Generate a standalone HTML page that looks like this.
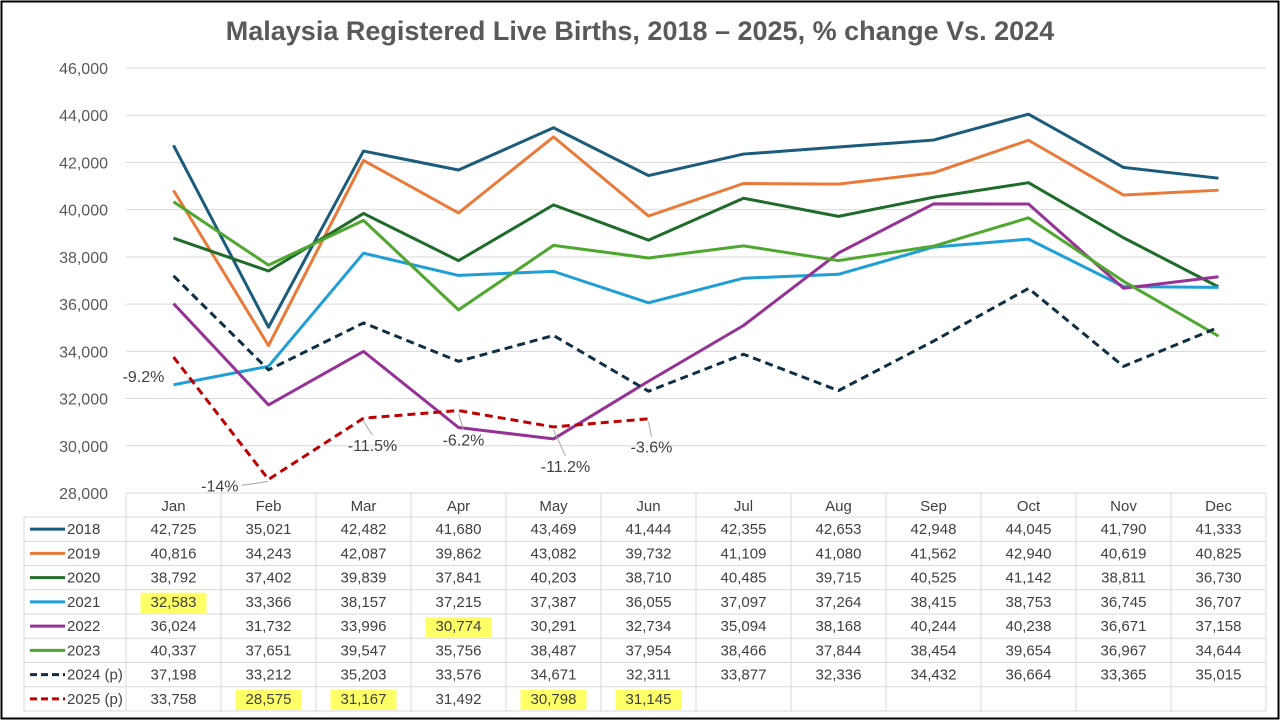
<!DOCTYPE html>
<html><head><meta charset="utf-8"><style>
body{margin:0;background:#fff;}
svg{display:block;font-family:"Liberation Sans",sans-serif;}
</style></head><body>
<svg id="chart" width="1280" height="720">
<rect x="1.5" y="1.5" width="1277" height="717" fill="#fff" stroke="#000" stroke-width="2"/>
<text x="640" y="40" text-anchor="middle" font-size="27" font-weight="bold" fill="#595959">Malaysia Registered Live Births, 2018 – 2025, % change Vs. 2024</text>
<g id="grid"></g><g id="table"></g><g id="lines"></g><g id="annos"></g>
</svg>
<script>
const months=["Jan","Feb","Mar","Apr","May","Jun","Jul","Aug","Sep","Oct","Nov","Dec"];
const yTicks=[28000,30000,32000,34000,36000,38000,40000,42000,44000,46000];
const seriesNames=["2018","2019","2020","2021","2022","2023","2024 (p)","2025 (p)"];
const s2018=[42725,35021,42482,41680,43469,41444,42355,42653,42948,44045,41790,41333];
const s2019=[40816,34243,42087,39862,43082,39732,41109,41080,41562,42940,40619,40825];
const s2020=[38792,37402,39839,37841,40203,38710,40485,39715,40525,41142,38811,36730];
const s2021=[32583,33366,38157,37215,37387,36055,37097,37264,38415,38753,36745,36707];
const s2022=[36024,31732,33996,30774,30291,32734,35094,38168,40244,40238,36671,37158];
const s2023=[40337,37651,39547,35756,38487,37954,38466,37844,38454,39654,36967,34644];
const s2024=[37198,33212,35203,33576,34671,32311,33877,32336,34432,36664,33365,35015];
const s2025=[33758,28575,31167,31492,30798,31145];
const pctLabels=["-9.2%","-14%","-11.5%","-6.2%","-11.2%","-3.6%"];
const highlights=[[3,0],[7,1],[7,2],[4,3],[7,4],[7,5]];
const allSeries=[s2018,s2019,s2020,s2021,s2022,s2023,s2024,s2025];
const colors=["#1b5b7c","#e97a3a","#1e6b2a","#1f9fd6","#963296","#4ea72e","#0e2f44","#c00000"];
const dashed=[false,false,false,false,false,false,true,true];
const NS="http://www.w3.org/2000/svg";
const X0=126,CW=95,Y0=493,Y1=68,VMIN=28000,VMAX=46000;
const x=i=>X0+CW*(i+0.5);
const y=v=>Y0-(v-VMIN)/(VMAX-VMIN)*(Y0-Y1);
function mk(tag,attrs,parent,txt){const e=document.createElementNS(NS,tag);for(const k in attrs)e.setAttribute(k,attrs[k]);if(txt!==undefined)e.textContent=txt;parent.appendChild(e);return e;}
const grid=document.getElementById('grid'),table=document.getElementById('table'),lines=document.getElementById('lines'),annos=document.getElementById('annos');
yTicks.forEach(t=>{
  if(t>VMIN){const l=mk('line',{x1:X0,x2:1266,y1:y(t),y2:y(t),stroke:'#d9d9d9','stroke-width':1},grid);
  
  }
  const tx=mk('text',{x:108,y:y(t)+6,'text-anchor':'end','font-size':16,fill:'#595959'},grid,t.toLocaleString('en-US'));
  
  
});
const RH=24.25,TOP=Y0+24;
highlights.forEach(([r,c])=>{const h=mk('rect',{x:x(c)-33,y:TOP+r*RH+3,width:66,height:RH-4,fill:'#ffff66'},table);
  
  });
const bottom=TOP+8*RH;
mk('line',{x1:X0,x2:1266,y1:Y0,y2:Y0,stroke:'#d9d9d9'},table);
for(let r=0;r<=8;r++)mk('line',{x1:24,x2:1266,y1:TOP+r*RH,y2:TOP+r*RH,stroke:'#d9d9d9'},table);
mk('line',{x1:24,x2:24,y1:TOP,y2:bottom,stroke:'#d9d9d9'},table);
for(let c=0;c<=12;c++)mk('line',{x1:X0+c*CW,x2:X0+c*CW,y1:Y0,y2:bottom,stroke:'#d9d9d9'},table);
months.forEach((m,i)=>{const t=mk('text',{x:x(i),y:Y0+18,'text-anchor':'middle','font-size':15,fill:'#404040'},table,m);
  
  });
allSeries.forEach((s,r)=>{
  const cy=TOP+r*RH+RH/2;
  const lk=mk('line',{x1:30,x2:65,y1:cy,y2:cy,stroke:colors[r],'stroke-width':3,'stroke-dasharray':dashed[r]?'7,4':'none'},table);
  
  
  const ln=mk('text',{x:67,y:cy+5,'font-size':15,fill:'#404040'},table,seriesNames[r]);
  
  
  s.forEach((v,i)=>{const t=mk('text',{x:x(i),y:cy+5,'text-anchor':'middle','font-size':15,fill:'#404040'},table,v.toLocaleString('en-US'));
    
    });
});
allSeries.forEach((s,r)=>{
  const p=mk('polyline',{points:s.map((v,i)=>x(i)+','+y(v)).join(' '),fill:'none',stroke:colors[r],'stroke-width':3,'stroke-linejoin':'round','stroke-dasharray':dashed[r]?'8,5':'none'},lines);
  
  
});
const offs=[[-30,25],[-30,12],[9,33],[5,35],[12,45],[3,34]];
pctLabels.forEach((lab,i)=>{
  const px=x(i),py=y(s2025[i]);const lx=px+offs[i][0],ly=py+offs[i][1];
  if(i===1)mk('line',{x1:px,y1:py+2,x2:lx+3,y2:ly-6,stroke:'#a6a6a6','stroke-width':1},annos);
  else if(i>1)mk('line',{x1:px,y1:py+3,x2:lx,y2:ly-16,stroke:'#a6a6a6','stroke-width':1},annos);
  const t=mk('text',{x:lx,y:ly,'text-anchor':i===1?'end':'middle','font-size':16,fill:'#404040'},annos,lab);
  
  
});
</script>
</body></html>
